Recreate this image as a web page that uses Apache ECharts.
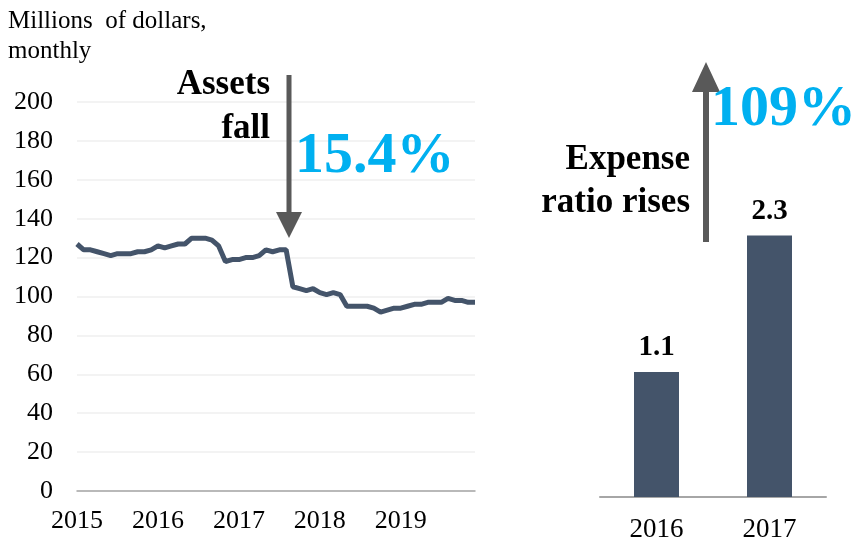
<!DOCTYPE html>
<html lang="en">
<head>
    <meta charset="utf-8">
    <title>Assets and expense ratio</title>
    <script src="https://cdn.jsdelivr.net/npm/echarts@6/dist/echarts.min.js"></script>
    <style>
        html, body { margin: 0; padding: 0; background: #fff; }
    </style>
</head>
<body>

<div id="main" style="width:857px;height:544px;"></div>

<script type="text/javascript">
    // 月度资产（百万美元），2015-01 ~ 2019-12
    var assets = [
        127, 124, 124, 123, 122, 121, 122, 122, 122, 123, 123, 124,
        126, 125, 126, 127, 127, 130, 130, 130, 129, 126, 118, 119,
        119, 120, 120, 121, 124, 123, 124, 124, 105, 104, 103, 104,
        102, 101, 102, 101, 95, 95, 95, 95, 94, 92, 93, 94,
        94, 95, 96, 96, 97, 97, 97, 99, 98, 98, 97, 97
    ];
    var years = [2015, 2016, 2017, 2018, 2019];
    var months = [];
    years.forEach(function (y) {
        for (var m = 1; m <= 12; m++) {
            months.push(y + '-' + (m < 10 ? '0' + m : m));
        }
    });
    // 费用率
    var ratioYears = ['2016', '2017'];
    var ratioValues = [1.1, 2.3];

    var font = 'Liberation Serif';
    var navy = '#44546a';
    var arrowGray = '#595959';
    var blue = '#00b0f0';

    var chart = echarts.init(document.getElementById('main'), null, {renderer: 'canvas'});
    chart.setOption({
        animation: false,
        textStyle: {fontFamily: font},
        grid: [
            {left: 77, right: 382, top: 102, bottom: 53},
            {left: 600, right: 31, top: 156, bottom: 47}
        ],
        xAxis: [{
            type: 'category',
            gridIndex: 0,
            data: months,
            boundaryGap: false,
            axisLine: {lineStyle: {color: '#a6a6a6', width: 1.5}},
            axisTick: {show: false},
            axisLabel: {
                interval: function (i) { return i % 12 === 0; },
                formatter: function (v) { return v.slice(0, 4); },
                color: '#000', fontSize: 26, fontFamily: font, margin: 17
            }
        }, {
            type: 'category',
            gridIndex: 1,
            data: ratioYears,
            axisLine: {lineStyle: {color: '#a6a6a6', width: 2}},
            axisTick: {show: false},
            axisLabel: {color: '#000', fontSize: 27, fontFamily: font, margin: 19}
        }],
        yAxis: [{
            type: 'value',
            gridIndex: 0,
            min: 0, max: 200, interval: 20,
            axisLine: {show: false},
            axisTick: {show: false},
            splitLine: {lineStyle: {color: '#efefef', width: 1.5}},
            axisLabel: {color: '#000', fontSize: 26, fontFamily: font, margin: 24}
        }, {
            type: 'value',
            gridIndex: 1,
            min: 0, max: 3,
            show: false
        }],
        series: [{
            type: 'line',
            xAxisIndex: 0, yAxisIndex: 0,
            data: assets,
            showSymbol: false,
            lineStyle: {color: navy, width: 5},
            z: 3
        }, {
            type: 'bar',
            xAxisIndex: 1, yAxisIndex: 1,
            data: ratioValues,
            barWidth: 45,
            itemStyle: {color: navy},
            label: {
                show: true, position: 'top', distance: 10,
                color: '#000', fontSize: 29, fontWeight: 'bold', fontFamily: font,
                formatter: function (p) { return p.value.toFixed(1); }
            }
        }],
        graphic: [
            {type: 'text', left: 8, top: 6, z: 100, style: {text: 'Millions  of dollars,\nmonthly', font: '25px "Liberation Serif"', fill: '#000', lineHeight: 30}},
            // 资产下降箭头
            {type: 'text', right: 587, top: 67, z: 100, style: {text: 'Assets', font: 'bold 35px "Liberation Serif"', fill: '#000', align: 'right'}},
            {type: 'text', right: 587, top: 111, z: 100, style: {text: 'fall', font: 'bold 35px "Liberation Serif"', fill: '#000', align: 'right'}},
            {type: 'line', z: 100, shape: {x1: 289, y1: 75, x2: 289, y2: 220}, style: {stroke: arrowGray, lineWidth: 5}},
            {type: 'polygon', z: 100, shape: {points: [[276, 212], [302, 212], [289, 238]]}, style: {fill: arrowGray}},
            {type: 'text', left: 295, top: 128, z: 100, style: {text: '15.4%', font: 'bold 58px "Liberation Serif"', fill: blue}},
            // 费用率上升箭头
            {type: 'line', z: 100, shape: {x1: 706, y1: 242, x2: 706, y2: 86}, style: {stroke: arrowGray, lineWidth: 6}},
            {type: 'polygon', z: 100, shape: {points: [[692, 92], [720, 92], [706, 62]]}, style: {fill: arrowGray}},
            {type: 'text', left: 711, top: 81, z: 100, style: {text: '109%', font: 'bold 58px "Liberation Serif"', fill: blue}},
            {type: 'text', right: 167, top: 142, z: 100, style: {text: 'Expense', font: 'bold 35px "Liberation Serif"', fill: '#000', align: 'right'}},
            {type: 'text', right: 167, top: 185, z: 100, style: {text: 'ratio rises', font: 'bold 35px "Liberation Serif"', fill: '#000', align: 'right'}}
        ]
    });
</script>

</body>
</html>
